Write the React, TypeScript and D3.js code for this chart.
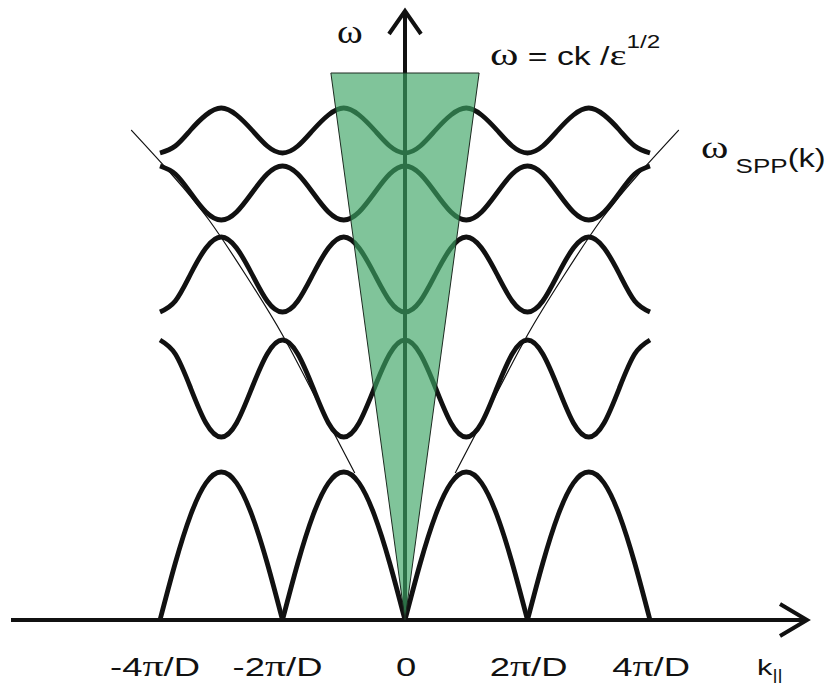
import React, { useEffect, useRef } from "react";
import * as d3 from "d3";

// wave vector along the grating, in units of pi/D
const kValues = [
    -4, -3.75, -3.5, -3.25, -3, -2.75, -2.5, -2.25, -2, -1.75, -1.5, -1.25, -1, -0.75, -0.5, -0.25,
    0, 0.25, 0.5, 0.75, 1, 1.25, 1.5, 1.75, 2, 2.25, 2.5, 2.75, 3, 3.25, 3.5, 3.75, 4,
];

// band frequencies (arbitrary units), one value per k above
const band1 = [
    0, 0.57, 1.05, 1.37, 1.48, 1.37, 1.05, 0.57, 0, 0.57, 1.05, 1.37, 1.48, 1.37, 1.05, 0.57,
    0, 0.57, 1.05, 1.37, 1.48, 1.37, 1.05, 0.57, 0, 0.57, 1.05, 1.37, 1.48, 1.37, 1.05, 0.57, 0,
];
const band2 = [
    2.8, 2.66, 2.32, 1.97, 1.83, 1.97, 2.32, 2.66, 2.8, 2.66, 2.32, 1.97, 1.83, 1.97, 2.32, 2.66,
    2.8, 2.66, 2.32, 1.97, 1.83, 1.97, 2.32, 2.66, 2.8, 2.66, 2.32, 1.97, 1.83, 1.97, 2.32, 2.66, 2.8,
];
const band3 = [
    3.08, 3.19, 3.46, 3.72, 3.83, 3.72, 3.46, 3.19, 3.08, 3.19, 3.46, 3.72, 3.83, 3.72, 3.46, 3.19,
    3.08, 3.19, 3.46, 3.72, 3.83, 3.72, 3.46, 3.19, 3.08, 3.19, 3.46, 3.72, 3.83, 3.72, 3.46, 3.19, 3.08,
];
const band4 = [
    4.54, 4.46, 4.27, 4.08, 4.0, 4.08, 4.27, 4.46, 4.54, 4.46, 4.27, 4.08, 4.0, 4.08, 4.27, 4.46,
    4.54, 4.46, 4.27, 4.08, 4.0, 4.08, 4.27, 4.46, 4.54, 4.46, 4.27, 4.08, 4.0, 4.08, 4.27, 4.46, 4.54,
];
const band5 = [
    4.67, 4.74, 4.9, 5.05, 5.12, 5.05, 4.9, 4.74, 4.67, 4.74, 4.9, 5.05, 5.12, 5.05, 4.9, 4.74,
    4.67, 4.74, 4.9, 5.05, 5.12, 5.05, 4.9, 4.74, 4.67, 4.74, 4.9, 5.05, 5.12, 5.05, 4.9, 4.74, 4.67,
];
const upperBands = [band2, band3, band4, band5];

// bare SPP dispersion (right half, drawn mirrored on the left)
const sppK = [0.82, 1.4, 2.0, 2.6, 3.2, 3.8, 4.47];
const sppOmega = [1.47, 2.15, 2.85, 3.45, 4.0, 4.45, 4.9];

// light cone w = ck/eps^1/2
const coneK = [-1.21, 0, 1.21];
const coneOmega = [5.47, 0, 5.47];

const tickValues = [-4, -2, 0, 2, 4];
const tickLabels = ["-4π/D", "-2π/D", "0", "2π/D", "4π/D"];

const SANS = "'Liberation Sans', Arial, sans-serif";
const SERIF = "'Liberation Serif', 'Times New Roman', serif";

type Part = { t: string; serif?: boolean; size?: number; dy?: number };

function BandDiagram() {
    const ref = useRef<HTMLDivElement>(null);

    useEffect(() => {
        const width = 834;
        const height = 685;
        const svg = d3
            .select(ref.current)
            .append("svg")
            .attr("width", width)
            .attr("height", height)
            .style("position", "absolute")
            .style("left", "0px")
            .style("top", "0px")
            .style("background", "#fff");

        const x = d3.scaleLinear().domain([-4, 4]).range([160, 650]);
        const y = d3.scaleLinear().domain([0, 6]).range([620, 20]);

        const line = d3
            .line<[number, number]>()
            .x((d) => x(d[0]))
            .y((d) => y(d[1]))
            .curve(d3.curveNatural);

        // thin omega_SPP(k) lines
        [1, -1].forEach((s) => {
            svg.append("path")
                .attr("d", line(sppK.map((k, i) => [s * k, sppOmega[i]] as [number, number])))
                .attr("fill", "none")
                .attr("stroke", "#111")
                .attr("stroke-width", 1.2);
        });

        // lowest band: split at the zeros so the cusps stay sharp
        let seg: [number, number][] = [];
        const arches: [number, number][][] = [];
        kValues.forEach((k, i) => {
            seg.push([k, band1[i]]);
            if (band1[i] === 0 && seg.length > 1) {
                arches.push(seg);
                seg = [[k, band1[i]]];
            }
        });
        arches.forEach((a) => {
            svg.append("path")
                .attr("d", line(a))
                .attr("fill", "none")
                .attr("stroke", "#111")
                .attr("stroke-width", 4.8);
        });

        upperBands.forEach((b) => {
            svg.append("path")
                .attr("d", line(kValues.map((k, i) => [k, b[i]] as [number, number])))
                .attr("fill", "none")
                .attr("stroke", "#111")
                .attr("stroke-width", 4.8);
        });

        // axes with open arrow heads
        const axis = svg.append("g").attr("stroke", "#111").attr("stroke-width", 4).attr("fill", "none");
        axis.append("line").attr("x1", 11).attr("x2", 806).attr("y1", y(0)).attr("y2", y(0));
        axis.append("path").attr("d", `M780,${y(0) - 16}L807,${y(0)}L780,${y(0) + 16}`);
        axis.append("line").attr("x1", x(0)).attr("x2", x(0)).attr("y1", y(0)).attr("y2", 12);
        axis.append("path").attr("d", `M${x(0) - 16},34L${x(0)},11L${x(0) + 16},34`);

        // light cone drawn on top, semi transparent
        svg.append("path")
            .attr("d", d3.line<number>().x((d, i) => x(coneK[i])).y((d) => y(d))(coneOmega) + "Z")
            .attr("fill", "rgb(60,165,100)")
            .attr("fill-opacity", 0.65)
            .attr("stroke", "#1c2a20")
            .attr("stroke-width", 1);

        const addText = (px: number, py: number, parts: Part[], size: number, anchor = "start", sx = 1.4) => {
            const t = svg
                .append("text")
                .attr("transform", `translate(${px},${py}) scale(${sx},1)`)
                .attr("font-family", SANS)
                .attr("font-size", size)
                .attr("text-anchor", anchor)
                .attr("fill", "#111");
            parts.forEach((p) => {
                t.append("tspan")
                    .attr("font-family", p.serif ? SERIF : SANS)
                    .attr("font-size", p.size || size)
                    .attr("dy", p.dy || 0)
                    .text(p.t);
            });
        };

        // tick labels
        tickValues.forEach((v, i) => {
            const lab = tickLabels[i];
            if (lab.indexOf("π") < 0) {
                addText(x(v) + 1, 676, [{ t: lab }], 26, "middle");
            } else {
                const [pre, post] = lab.split("π");
                addText(x(v) + 40, 676, [{ t: pre }, { t: "π", serif: true, size: 30 }, { t: post }], 26, "end");
            }
        });

        addText(757, 675, [{ t: "k" }, { t: "||", size: 14, dy: 5 }], 22);
        addText(337, 43, [{ t: "ω", serif: true }], 34, "start", 1.15);
        addText(490, 65, [
            { t: "ω", serif: true, size: 32 },
            { t: " = ck /" },
            { t: "ε", serif: true, size: 30 },
            { t: "1/2", size: 18, dy: -17 },
        ], 25, "start", 1.35);
        addText(701, 158, [
            { t: "ω", serif: true, size: 32 },
            { t: " SPP", size: 20, dy: 15 },
            { t: "(k)", size: 25, dy: -6 },
        ], 25, "start", 1.3);

        return () => {
            svg.remove();
        };
    }, []);

    return <div ref={ref}></div>;
}

export default function App() {
    return <BandDiagram />;
}
